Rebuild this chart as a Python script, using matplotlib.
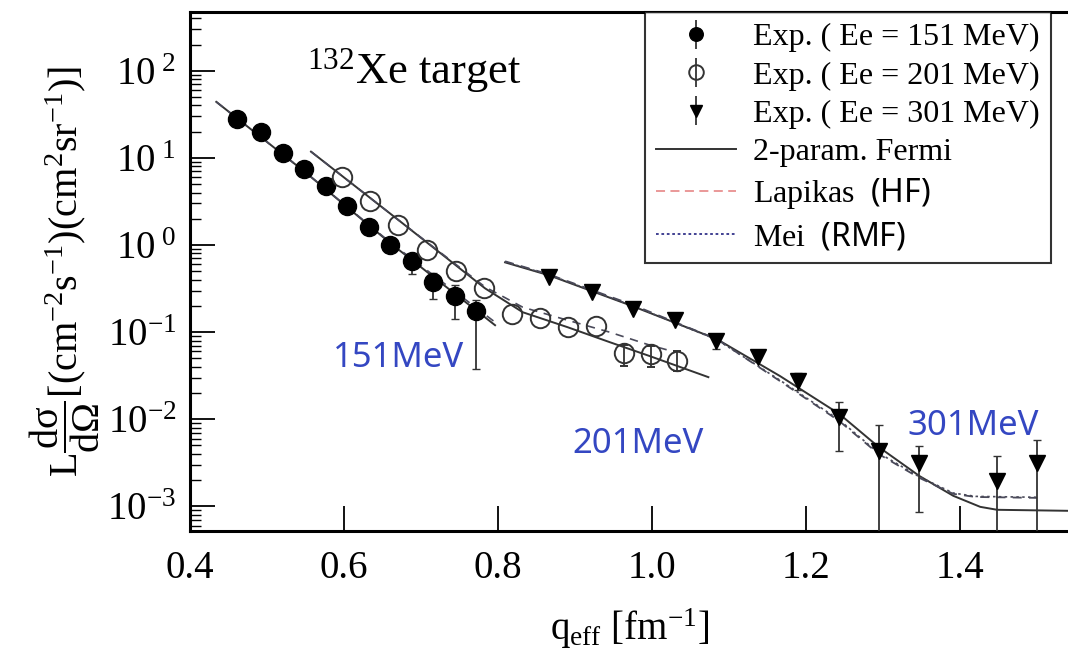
import matplotlib
matplotlib.use("Agg")
import matplotlib.pyplot as plt
from matplotlib.lines import Line2D
from matplotlib.legend_handler import HandlerErrorbar

plt.rcParams["font.family"] = ["Liberation Serif", "DejaVu Serif"]
plt.rcParams["mathtext.fontset"] = "custom"
plt.rcParams["mathtext.rm"] = "Liberation Serif"
plt.rcParams["mathtext.it"] = "Liberation Serif:italic"
plt.rcParams["mathtext.sf"] = "Noto Sans"

nan = float("nan")

q151 = [0.461, 0.492, 0.521, 0.548, 0.577, 0.604, 0.632, 0.660, 0.688, 0.716, 0.744, 0.771]
y151 = [28.2, 20.0, 11.5, 7.5, 4.7, 2.77, 1.63, 0.99, 0.65, 0.373, 0.258, 0.173]
lo151 = [nan, nan, nan, nan, nan, nan, nan, nan, 0.19, 0.135, 0.117, 0.135]
hi151 = [nan, nan, nan, nan, nan, nan, nan, nan, 0.0, 0.107, 0.09, 0.06]

q201 = [0.597, 0.634, 0.670, 0.708, 0.745, 0.782, 0.818, 0.855, 0.891, 0.927, 0.964, 0.999, 1.032]
y201 = [6.1, 3.16, 1.68, 0.867, 0.499, 0.318, 0.160, 0.144, 0.114, 0.117, 0.0573, 0.0558, 0.0464]
lo201 = [nan, nan, nan, nan, nan, nan, nan, nan, nan, nan, 0.017, 0.016, 0.011]
hi201 = [nan, nan, nan, nan, nan, nan, nan, nan, nan, nan, 0.014, 0.014, 0.014]

q301 = [0.866, 0.922, 0.975, 1.030, 1.083, 1.138, 1.190, 1.243, 1.294, 1.347, 1.448, 1.500]
y301 = [0.426, 0.286, 0.183, 0.137, 0.0787, 0.0515, 0.0274, 0.0106, 0.00432, 0.00315, 0.00196, 0.00315]
lo301 = [nan, nan, nan, nan, 0.015, nan, 0.0058, 0.0063, 0.00402, 0.00229, 0.00166, 0.00285]
hi301 = [nan, nan, nan, nan, 0.0, nan, 0.0066, 0.0051, 0.0043, 0.00178, 0.00183, 0.00263]

# model curves (2-param Fermi = solid, Lapikas HF = dashed, Mei RMF = dotted)
fermi151_q = [0.434, 0.55, 0.66, 0.796]
fermi151_y = [44.0, 6.8, 1.05, 0.12]
hf151_q = [0.434, 0.55, 0.66, 0.74, 0.796]
hf151_y = [44.0, 6.8, 1.07, 0.31, 0.13]

fermi201_q = [0.557, 0.673, 0.783, 0.832, 0.890, 0.945, 0.997, 1.073]
fermi201_y = [11.8, 1.86, 0.318, 0.169, 0.114, 0.0766, 0.0530, 0.0304]
hf201_q = [0.557, 0.673, 0.783, 0.832, 0.890, 0.945, 0.997, 1.03]
hf201_y = [11.8, 1.86, 0.33, 0.193, 0.137, 0.0997, 0.0708, 0.059]

fermi301_q = [0.809, 0.866, 0.975, 1.084, 1.166, 1.243, 1.294, 1.347, 1.391, 1.426, 1.448, 1.540]
fermi301_y = [0.632, 0.449, 0.198, 0.083, 0.0313, 0.0115, 0.00481, 0.00223, 0.00132, 0.000986, 0.000912, 0.000888]
hf301_q = [0.809, 0.866, 0.975, 1.084, 1.166, 1.243, 1.294, 1.347, 1.391, 1.42, 1.50]
hf301_y = [0.65, 0.46, 0.205, 0.083, 0.0274, 0.00953, 0.00399, 0.00212, 0.00139, 0.00128, 0.00125]
rmf301_y = [0.64, 0.455, 0.20, 0.082, 0.0280, 0.0098, 0.0041, 0.00218, 0.00142, 0.00130, 0.00127]

yticks = [1e-3, 1e-2, 1e-1, 1e0, 1e1, 1e2]
ytick_labels = [r"$10^{-3}$", r"$10^{-2}$", r"$10^{-1}$", r"$10^{\ 0}$", r"$10^{\ 1}$", r"$10^{\ 2}$"]
xticks = [0.4, 0.6, 0.8, 1.0, 1.2, 1.4]
xtick_labels = ["0.4", "0.6", "0.8", "1.0", "1.2", "1.4"]

fig = plt.figure(figsize=(10.68, 6.54), dpi=100)
ax = fig.add_axes([0.178, 0.188, 0.822, 0.794])

dark = "#333333"
curve = "#4a4a5a"

ax.plot(fermi151_q, fermi151_y, color=dark, lw=1.4, zorder=2)
ax.plot(hf151_q, hf151_y, color=curve, lw=1.2, ls=(0, (5, 4)), zorder=2)
ax.plot(fermi201_q, fermi201_y, color=dark, lw=1.4, zorder=2)
ax.plot(hf201_q, hf201_y, color=curve, lw=1.2, ls=(0, (5, 4)), zorder=2)
ax.plot(fermi301_q, fermi301_y, color=dark, lw=1.4, zorder=2)
ax.plot(hf301_q, hf301_y, color=curve, lw=1.3, ls=(0, (5, 4)), zorder=2)
ax.plot(hf301_q, rmf301_y, color=curve, lw=1.2, ls=(0, (1.5, 2)), zorder=2)

style151 = dict(fmt="o", ms=13, color="black", mfc="black", ecolor=dark, elinewidth=1.3)
style201 = dict(fmt="o", ms=14, color=dark, mfc="none", mew=1.4, ecolor=dark, elinewidth=1.3)
style301 = dict(fmt="v", ms=11, color="black", mfc="black", ecolor=dark, elinewidth=1.3)

ax.errorbar(q151, y151, yerr=[lo151, hi151], capsize=3, zorder=3, **style151)
ax.errorbar(q201, y201, yerr=[lo201, hi201], capsize=3, zorder=3, **style201)
ax.errorbar(q301, y301, yerr=[lo301, hi301], capsize=3, zorder=3, **style301)

# legend proxies without caps
p151 = ax.errorbar([nan], [nan], yerr=[nan], capsize=0, **style151)
p201 = ax.errorbar([nan], [nan], yerr=[nan], capsize=0, **style201)
p301 = ax.errorbar([nan], [nan], yerr=[nan], capsize=0, **style301)

ax.set_yscale("log")
ax.set_xlim(0.4, 1.54)
ax.set_ylim(5.2e-4, 476)
ax.set_yticks(yticks, labels=ytick_labels)
ax.set_xticks(xticks, labels=xtick_labels)
ax.tick_params(axis="both", which="major", direction="in", length=18, width=1.3,
               labelsize=28, right=False, top=False)
ax.tick_params(axis="x", which="major", pad=14)
ax.tick_params(axis="y", which="major", pad=10)
ax.tick_params(axis="y", which="minor", direction="in", length=8, width=1.0, right=False)
ax.tick_params(axis="x", which="minor", bottom=False, top=False)
for side in ["left", "bottom", "top"]:
    ax.spines[side].set_linewidth(2.2)
ax.spines["right"].set_visible(False)

ax.set_xlabel(r"q$_{\mathrm{eff}}$ [fm$^{-1}$]", fontsize=28, labelpad=14)
ax.set_ylabel(r"L$\dfrac{\mathrm{d\sigma}}{\mathrm{d\Omega}}$[(cm$^{-2}$s$^{-1}$)(cm$^{2}$sr$^{-1}$)]",
              fontsize=29, labelpad=4)

ax.text(0.133, 0.863, r"$^{132}$Xe target", transform=ax.transAxes, fontsize=32)

blue = "#3447c2"
ax.text(0.163, 0.316, "151MeV", transform=ax.transAxes, fontsize=25, color=blue, family="Noto Sans")
ax.text(0.436, 0.150, "201MeV", transform=ax.transAxes, fontsize=25, color=blue, family="Noto Sans")
ax.text(0.817, 0.185, "301MeV", transform=ax.transAxes, fontsize=25, color=blue, family="Noto Sans")

handles = [p151, p201, p301,
           Line2D([], [], color=dark, lw=1.4),
           Line2D([], [], color="#e89090", lw=1.3, ls=(0, (5, 3))),
           Line2D([], [], color="#33338a", lw=1.3, ls=(0, (1.5, 1.5)))]
labels = ["Exp. ( Ee = 151 MeV)", "Exp. ( Ee = 201 MeV)", "Exp. ( Ee = 301 MeV)",
          "2-param. Fermi", r"Lapikas  $\mathsf{(HF)}$", r"Mei  $\mathsf{(RMF)}$"]
leg = ax.legend(handles, labels, loc="upper left", bbox_to_anchor=(0.518, 1.0),
                borderaxespad=0, fontsize=23, frameon=True, fancybox=False,
                edgecolor="black", handlelength=2.5, handletextpad=0.55,
                labelspacing=0.28, borderpad=0.35, markerscale=0.75,
                handler_map={p151: HandlerErrorbar(yerr_size=0.45),
                             p201: HandlerErrorbar(yerr_size=0.45),
                             p301: HandlerErrorbar(yerr_size=0.45)})
leg.get_frame().set_linewidth(1.5)

fig.savefig("out.png", dpi=100)
